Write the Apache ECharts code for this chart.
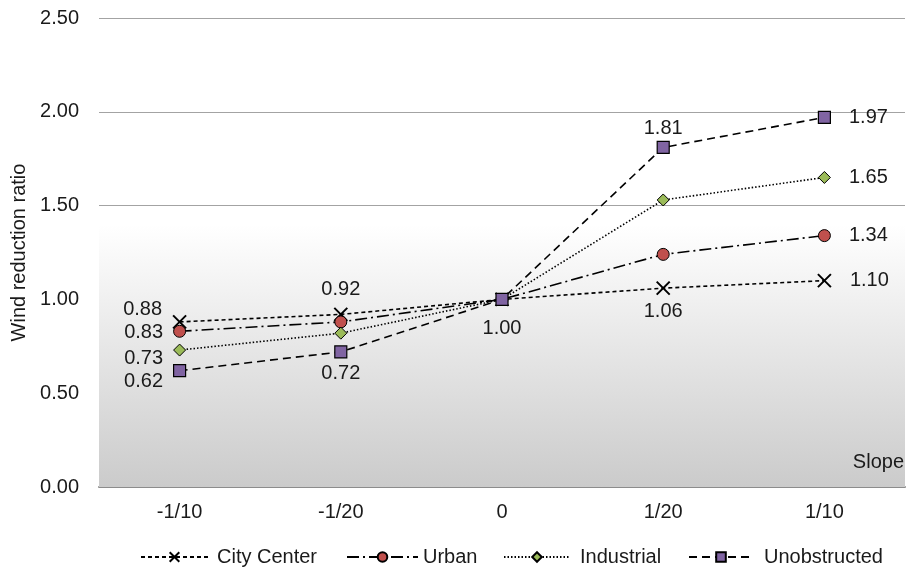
<!DOCTYPE html>
<html>
<head>
<meta charset="utf-8">
<script src="https://cdn.jsdelivr.net/npm/echarts@6/dist/echarts.min.js"></script>
<style>
  html, body { margin: 0; padding: 0; background: #fff; }
  #chart { width: 908px; height: 571px; }
</style>
</head>
<body>
<div id="chart"></div>
<script>
// Slope categories along the x axis
const slopes = ['-1/10', '-1/20', '0', '1/20', '1/10'];

// Wind reduction ratio per terrain type
const cityCenter   = [0.88, 0.92, 1.00, 1.06, 1.10];
const urban        = [0.83, 0.88, 1.00, 1.24, 1.34];
const industrial   = [0.73, 0.82, 1.00, 1.53, 1.65];
const unobstructed = [0.62, 0.72, 1.00, 1.81, 1.97];

// Series names, in legend order
const seriesNames = ['City Center', 'Urban', 'Industrial', 'Unobstructed'];

// Y axis range
const yMin = 0, yMax = 2.5, yStep = 0.5;
// Upper edge of the shaded band behind the plot
const bandTop = 1.4;

const FONT = 'Liberation Sans, Arial, sans-serif';
const TXT = '#1a1a1a';
const FS = 20;

// Per-point label placement: which points carry a value label and where
function labelled(values, spec) {
  return values.map((v, i) => {
    const s = spec[i];
    if (!s) return { value: v, label: { show: false } };
    return { value: v, label: Object.assign({ show: true }, s) };
  });
}

const lbl = { fontFamily: FONT, fontSize: FS, color: TXT, formatter: p => p.value.toFixed(2) };

// One legend block per series so each key can have its own sample length
const legendLayout = [
  { left: 140, itemWidth: 67, textPad: 4 },
  { left: 346, itemWidth: 71, textPad: 0 },
  { left: 503, itemWidth: 66, textPad: 5 },
  { left: 688, itemWidth: 64, textPad: 6 }
];
const legends = seriesNames.map((name, i) => ({
  bottom: 4,
  left: legendLayout[i].left,
  padding: 0,
  itemWidth: legendLayout[i].itemWidth,
  itemHeight: 12,
  textStyle: { fontFamily: FONT, fontSize: FS, color: TXT, padding: [0, 0, 0, legendLayout[i].textPad] },
  data: [name]
}));

const chart = echarts.init(document.getElementById('chart'));

chart.setOption({
  animation: false,
  textStyle: { fontFamily: FONT },
  grid: { left: 99, right: 3, top: 18, bottom: 84 },
  title: {
    text: 'Slope',
    right: 4,
    top: 452,
    padding: 0,
    textStyle: { fontFamily: FONT, fontSize: FS, fontWeight: 'normal', color: TXT }
  },
  legend: legends,
  xAxis: {
    type: 'category',
    data: slopes,
    boundaryGap: true,
    axisLine: { lineStyle: { color: '#8c8c8c', width: 2 } },
    axisTick: { show: false },
    axisLabel: { fontFamily: FONT, fontSize: FS, color: TXT, margin: 15 }
  },
  yAxis: {
    type: 'value',
    min: yMin, max: yMax, interval: yStep,
    name: 'Wind reduction ratio',
    nameLocation: 'middle',
    nameGap: 63,
    nameTextStyle: { fontFamily: FONT, fontSize: FS, color: TXT },
    axisLine: { show: false },
    axisTick: { show: false },
    axisLabel: { fontFamily: FONT, fontSize: FS, color: TXT, margin: 20, formatter: v => v.toFixed(2) },
    splitLine: { lineStyle: { color: '#a3a3a3', width: 1 } }
  },
  series: [
    {
      // shaded band behind the lower part of the plot
      name: 'band',
      type: 'line',
      data: [],
      z: -1,
      silent: true,
      markArea: {
        silent: true,
        itemStyle: {
          color: {
            type: 'linear', x: 0, y: 0, x2: 0, y2: 1,
            colorStops: [
              { offset: 0, color: '#ffffff' },
              { offset: 1, color: '#cbcbcb' }
            ]
          }
        },
        data: [[{ yAxis: bandTop }, { yAxis: yMin }]]
      }
    },
    {
      name: seriesNames[0],
      type: 'line',
      symbol: 'path://M0,0L10,10M10,0L0,10',
      symbolSize: 13,
      itemStyle: { color: '#000', borderColor: '#000', borderWidth: 2 },
      lineStyle: { color: '#000', width: 1.6, type: [4, 3] },
      label: lbl,
      data: labelled(cityCenter, [
        { position: 'left', distance: 10, offset: [0, -12] },
        { position: 'top', distance: 7 },
        null,
        { position: 'bottom', distance: 6 },
        { position: 'right', distance: 18 }
      ])
    },
    {
      name: seriesNames[1],
      type: 'line',
      symbol: 'circle',
      symbolSize: 12,
      itemStyle: { color: '#c0504d', borderColor: '#000', borderWidth: 1 },
      lineStyle: { color: '#000', width: 1.6, type: [12, 4, 2, 4] },
      label: lbl,
      data: labelled(urban, [
        { position: 'left', distance: 10, offset: [0, 1] },
        null, null, null,
        { position: 'right', distance: 18 }
      ])
    },
    {
      name: seriesNames[2],
      type: 'line',
      symbol: 'diamond',
      symbolSize: 12,
      itemStyle: { color: '#9bbb59', borderColor: '#000', borderWidth: 1 },
      lineStyle: { color: '#000', width: 1.6, type: [1.5, 2] },
      label: lbl,
      data: labelled(industrial, [
        { position: 'left', distance: 10, offset: [0, 8] },
        null, null, null,
        { position: 'right', distance: 18 }
      ])
    },
    {
      name: seriesNames[3],
      type: 'line',
      symbol: 'rect',
      symbolSize: 12,
      itemStyle: { color: '#8064a2', borderColor: '#000', borderWidth: 1.2 },
      lineStyle: { color: '#000', width: 1.6, type: [8, 5] },
      label: lbl,
      data: labelled(unobstructed, [
        { position: 'left', distance: 10, offset: [0, 11] },
        { position: 'bottom', distance: 5 },
        { position: 'bottom', distance: 12 },
        { position: 'top', distance: 2 },
        { position: 'right', distance: 18 }
      ])
    }
  ]
});
</script>
</body>
</html>
